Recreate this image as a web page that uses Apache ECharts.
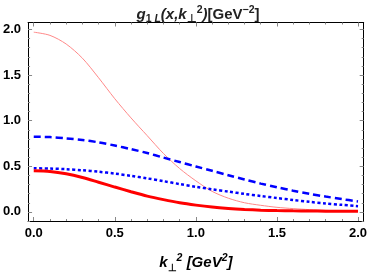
<!DOCTYPE html>
<html><head><meta charset="utf-8">
<style>html,body{margin:0;padding:0;background:#fff}#c{width:370px;height:278px}</style>
<script src="https://cdn.jsdelivr.net/npm/echarts@6/dist/echarts.min.js"></script>
</head><body><div id="c"></div>
<script>
// k_perp^2 sample positions [GeV^2]
const kVals = [0,0.1,0.2,0.3,0.4,0.5,0.6,0.7,0.8,0.9,1.0,1.1,1.2,1.3,1.4,1.5,1.6,1.7,1.8,1.9,2.0];
// thin light-red curve
const thinRed = [1.97,1.935,1.84,1.685,1.47,1.24,1.03,0.835,0.64,0.475,0.34,0.225,0.15,0.10,0.072,0.05,0.036,0.025,0.017,0.011,0.007];
// thick red curve
const thickRed = [0.45,0.443,0.418,0.377,0.325,0.272,0.221,0.173,0.134,0.10,0.074,0.053,0.038,0.027,0.019,0.014,0.011,0.009,0.008,0.007,0.006];
// dashed blue curve
const dashedBlue = [0.824,0.82,0.806,0.788,0.762,0.727,0.688,0.645,0.595,0.546,0.498,0.45,0.402,0.355,0.31,0.27,0.232,0.198,0.168,0.14,0.115];
// dotted blue curve
const dottedBlue = [0.478,0.475,0.468,0.456,0.44,0.42,0.395,0.367,0.337,0.305,0.275,0.248,0.222,0.197,0.174,0.152,0.13,0.11,0.093,0.077,0.062];
// tick values
const xMajor = [0,0.5,1,1.5,2];
const xMinor = [0.1,0.2,0.3,0.4,0.6,0.7,0.8,0.9,1.1,1.2,1.3,1.4,1.6,1.7,1.8,1.9];
const yMajor = [0,0.5,1,1.5,2];
const yMinor = [-0.1,0.1,0.2,0.3,0.4,0.6,0.7,0.8,0.9,1.1,1.2,1.3,1.4,1.6,1.7,1.8,1.9];

const pairs = arr => kVals.map((k,i)=>[k,arr[i]]);
const FF = 'Liberation Sans, Arial, sans-serif';
const tickCol = '#888';
const frameCol = '#000';

function xAx(pos, vals, len, labels, line){
  return {type:'value', position:pos, min:-0.035, max:2.035,
    axisLine:{show:line, onZero:false, lineStyle:{color:frameCol,width:1}},
    axisTick:{show:true, inside:true, length:len, customValues:vals, lineStyle:{color:tickCol,width:1}},
    axisLabel:{show:labels, customValues:xMajor, margin:6, fontFamily:FF, fontWeight:'bold', fontSize:13, color:'#000',
      formatter:v=>v.toFixed(1)},
    splitLine:{show:false}};
}
function yAx(pos, vals, len, labels, line){
  return {type:'value', position:pos, min:-0.1, max:2.076,
    axisLine:{show:line, onZero:false, lineStyle:{color:frameCol,width:1}},
    axisTick:{show:true, inside:true, length:len, customValues:vals, lineStyle:{color:tickCol,width:1}},
    axisLabel:{show:labels, customValues:yMajor, margin:7, fontFamily:FF, fontWeight:'bold', fontSize:13, color:'#000',
      formatter:v=>v.toFixed(1)},
    splitLine:{show:false}};
}

const chart = echarts.init(document.getElementById('c'), null, {renderer:'canvas'});
chart.setOption({
  animation:false,
  title:{
    text:'{i|g}{sub|1 }{subi|L}{i|(x,k}{sub|⊥}{sup|2}{i|)}{n|[GeV}{sup|−2}{n|]}',
    left:193, textAlign:'center', top:0,
    textStyle:{fontFamily:FF, fontSize:15, fontWeight:'bold', color:'#222',
      rich:{
        i:{fontFamily:FF, fontSize:15, fontWeight:'bold', fontStyle:'italic', lineHeight:20, color:'#222'},
        n:{fontFamily:FF, fontSize:15, fontWeight:'bold', lineHeight:20, color:'#222'},
        sub:{fontFamily:FF, fontSize:10.5, fontWeight:'bold', verticalAlign:'bottom', lineHeight:13, color:'#222'},
        subi:{fontFamily:FF, fontSize:10.5, fontWeight:'bold', fontStyle:'italic', verticalAlign:'bottom', lineHeight:13, color:'#222'},
        sup:{fontFamily:FF, fontSize:10.5, fontWeight:'bold', verticalAlign:'top', lineHeight:11, color:'#222'}
      }}
  },
  grid:{left:25.5, right:5, top:22.5, bottom:45.7, containLabel:false},
  xAxis:[
    Object.assign(xAx('bottom', xMajor, 4, true, true), {
      name:'{i|k}{sub|⊥}{sup|2}{i| [GeV}{sup|2}{i|]}', nameLocation:'middle', nameGap:32,
      nameTextStyle:{fontFamily:FF, fontSize:15, fontWeight:'bold', color:'#000',
        rich:{
          i:{fontFamily:FF, fontSize:15, fontWeight:'bold', fontStyle:'italic', lineHeight:20, color:'#000'},
          sub:{fontFamily:FF, fontSize:10, fontWeight:'bold', verticalAlign:'bottom', lineHeight:14, color:'#000'},
          sup:{fontFamily:FF, fontSize:10.5, fontWeight:'bold', fontStyle:'italic', verticalAlign:'top', lineHeight:11, color:'#000'}
        }}
    }),
    xAx('bottom', xMinor, 2, false, false),
    xAx('top', xMajor, 4, false, true),
    xAx('top', xMinor, 2, false, false)
  ],
  yAxis:[
    yAx('left', yMajor, 4, true, true),
    yAx('left', yMinor, 2, false, false),
    yAx('right', yMajor, 4, false, true),
    yAx('right', yMinor, 2, false, false)
  ],
  series:[
    {type:'line', name:'thin', data:pairs(thinRed), smooth:0.3, showSymbol:false,
      lineStyle:{color:'#ff8888', width:1}},
    {type:'line', name:'dashed', data:pairs(dashedBlue), smooth:0.3, showSymbol:false,
      lineStyle:{color:'#0000ff', width:2.5, type:[7,4]}},
    {type:'line', name:'dotted', data:pairs(dottedBlue), smooth:0.3, showSymbol:false,
      lineStyle:{color:'#0000ff', width:2.5, type:[3,2.5]}},
    {type:'line', name:'thick', data:pairs(thickRed), smooth:0.3, showSymbol:false,
      lineStyle:{color:'#ff0000', width:3}}
  ]
});
</script></body></html>
